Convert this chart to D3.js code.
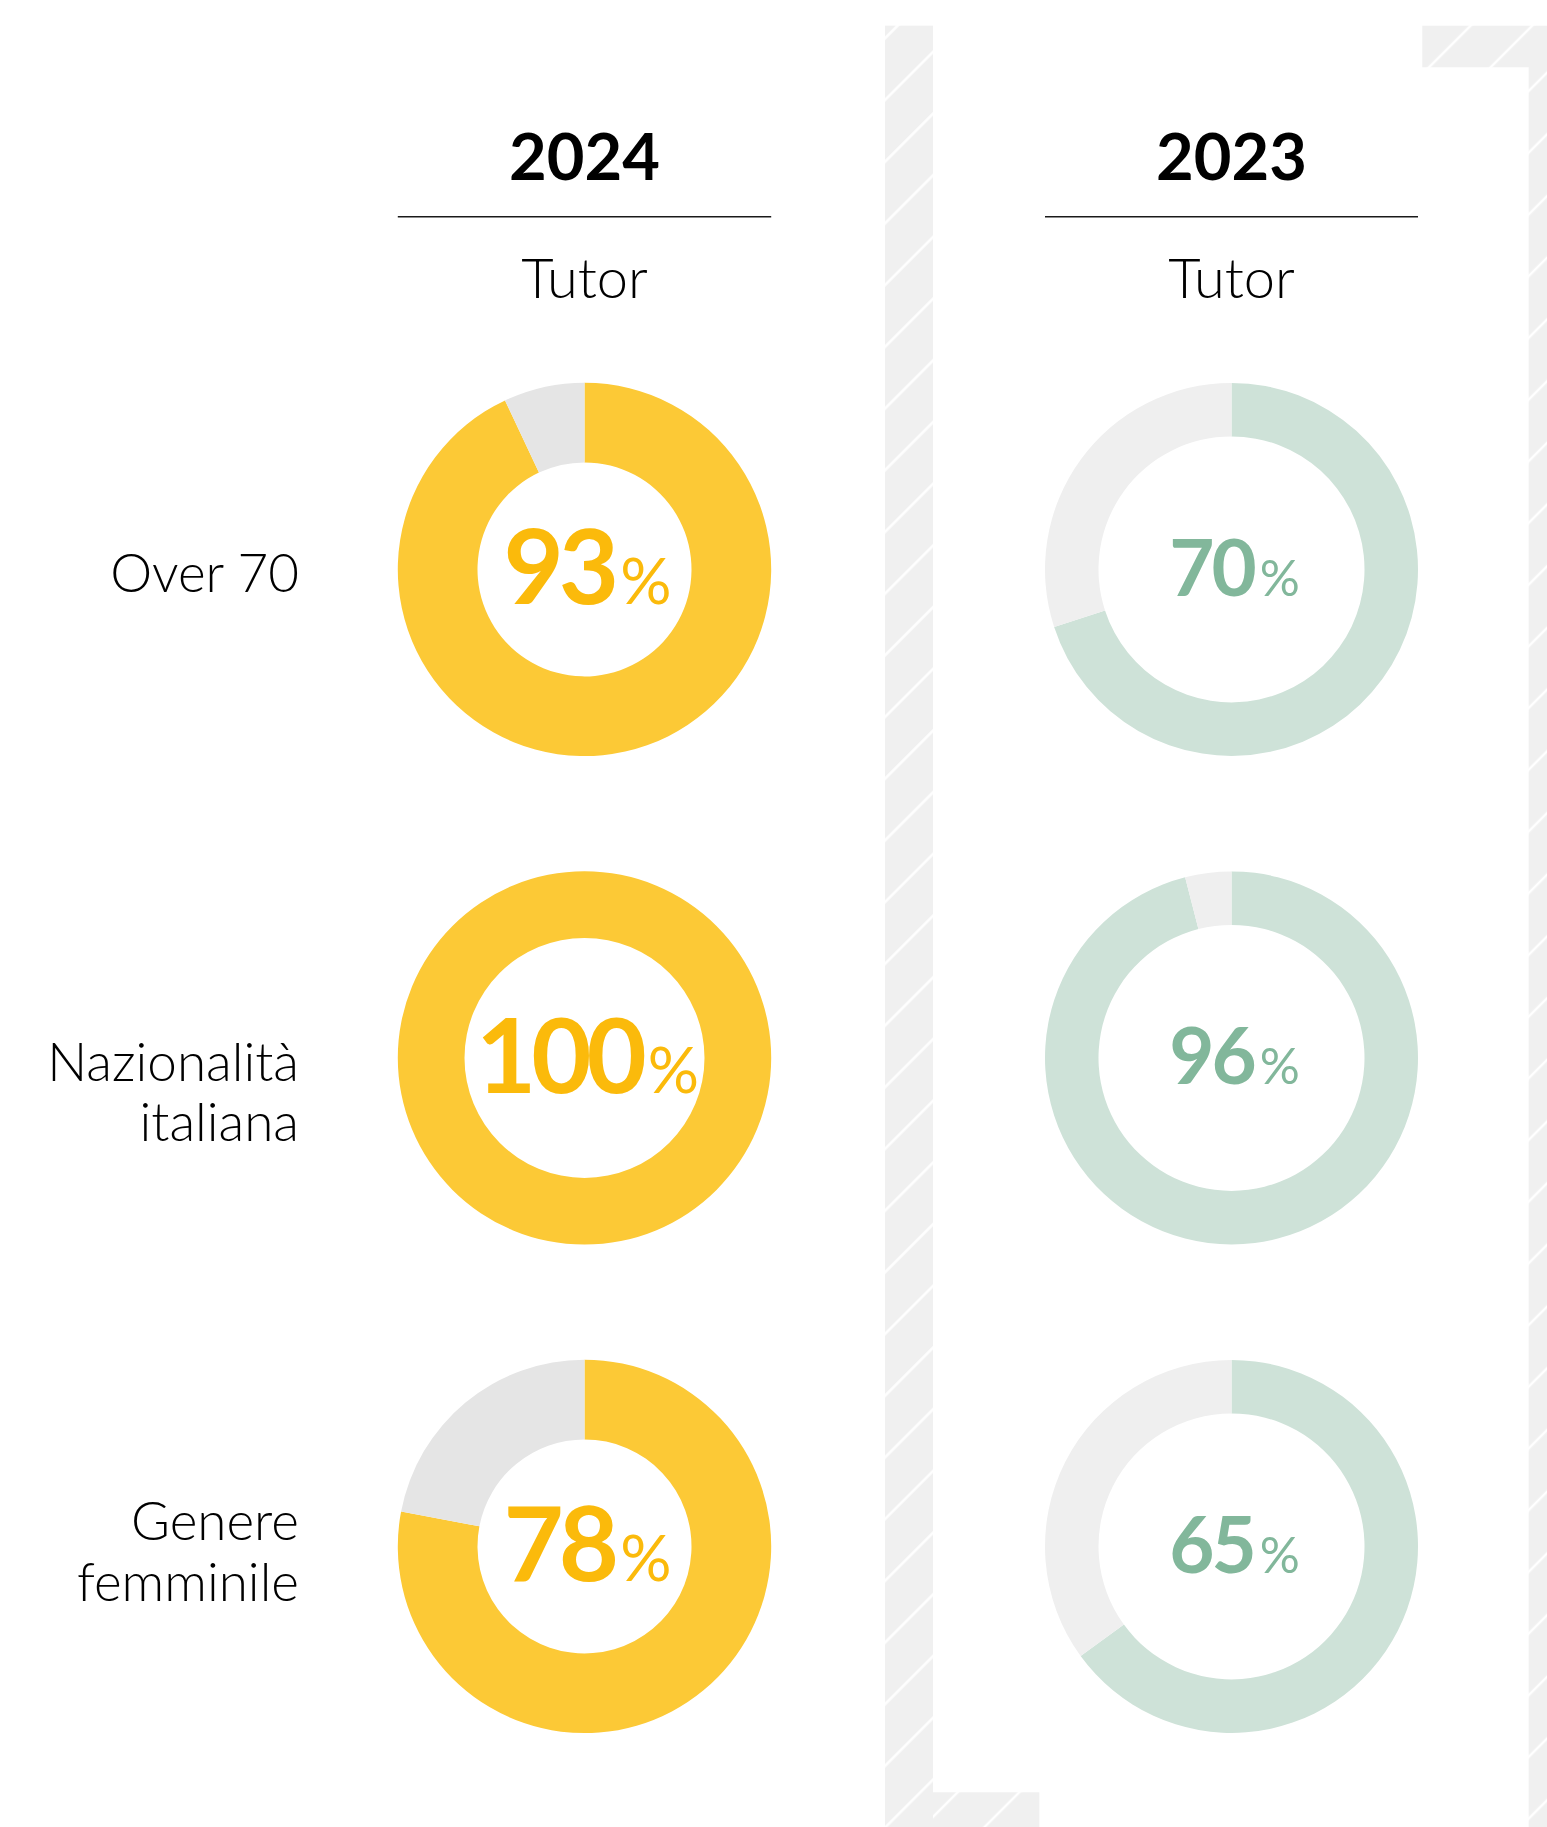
<!DOCTYPE html>
<html lang="it">
<head>
<meta charset="utf-8">
<title>Tutor 2024 – 2023</title>
<script src="https://cdn.jsdelivr.net/npm/d3@7"></script>
<style>
  html, body { margin: 0; padding: 0; background: #ffffff; }
  svg { display: block; }
  text { font-family: Lato, "Open Sans", sans-serif; }
</style>
</head>
<body>
<svg id="chart" width="1547" height="1827"></svg>
<script>
// ---- data ----
const years = ["2024", "2023"];
const groupLabel = "Tutor";
const categories = [["Over 70"], ["Nazionalità", "italiana"], ["Genere", "femminile"]];
const values2024 = [93, 100, 78];
const values2023 = [70, 96, 65];

// ---- styling per year ----
const yearStyle = {
  "2024": { fill: "#FCC936", rest: "#E5E5E5", text: "#FBBA0B", outer: 186.7, hole: v => (v >= 100 ? 120 : 107), num: 104, pct: 64, track: -5 },
  "2023": { fill: "#CEE2D8", rest: "#EFEFEF", text: "#82B79B", outer: 186.5, hole: () => 133, num: 78, pct: 50, track: -3 }
};
const seriesByYear = { "2024": values2024, "2023": values2023 };
// first-line baseline tweak for each category label
const labelShift = [0, 0, -29];

const W = 1547, H = 1827;
const svg = d3.select("#chart");

const x = d3.scalePoint().domain(years).range([584.5, 1231.5]);
const y = d3.scalePoint().domain(d3.range(categories.length)).range([569.4, 1546.4]);

// ---- hatched frame behind the 2023 column ----
const defs = svg.append("defs");
const hatchPhases = [59.5, 35.1, 15.5];
const step = 61.7 / Math.SQRT2;
hatchPhases.forEach((ph, i) => {
  const p = defs.append("pattern")
    .attr("id", "hatch" + i)
    .attr("patternUnits", "userSpaceOnUse")
    .attr("width", step).attr("height", step)
    .attr("patternTransform", "rotate(45)");
  p.append("rect").attr("width", step).attr("height", step).attr("fill", "#F0F0F0");
  const u = (ph / Math.SQRT2) % step;
  p.append("rect").attr("x", u - 1.25).attr("y", 0).attr("width", 2.5).attr("height", step).attr("fill", "#ffffff");
  p.append("rect").attr("x", u - 1.25 - step).attr("y", 0).attr("width", 2.5).attr("height", step).attr("fill", "#ffffff");
});
const frame = svg.append("g").attr("class", "frame");
// left band
frame.append("rect").attr("x", 885).attr("y", 25.7).attr("width", 48).attr("height", H - 25.7).attr("fill", "url(#hatch0)");
// bottom strip
frame.append("rect").attr("x", 933).attr("y", 1792.3).attr("width", 1039.3 - 933).attr("height", H - 1792.3).attr("fill", "url(#hatch1)");
// top-right corner and right band
frame.append("path")
  .attr("d", `M1422.3,25.7 H${W} V${H} H1528.7 V67.3 H1422.3 Z`)
  .attr("fill", "url(#hatch2)");

// ---- column headers ----
const head = svg.append("g").attr("class", "headers");
years.forEach(yr => {
  const cx = x(yr), R = yearStyle[yr].outer;
  head.append("text")
    .attr("x", cx).attr("y", 180)
    .attr("text-anchor", "middle")
    .attr("font-size", 65).attr("font-weight", 700).attr("fill", "#000")
    .text(yr);
  head.append("line")
    .attr("x1", cx - R).attr("x2", cx + R)
    .attr("y1", 216.7).attr("y2", 216.7)
    .attr("stroke", "#1a1a1a").attr("stroke-width", 1.5);
  head.append("text")
    .attr("x", cx).attr("y", 298.3)
    .attr("text-anchor", "middle")
    .attr("font-size", 56).attr("font-weight", 300).attr("fill", "#000")
    .text(groupLabel);
});

// ---- row labels ----
const labels = svg.append("g").attr("class", "row-labels");
categories.forEach((lines, i) => {
  const t = labels.append("text")
    .attr("text-anchor", "end")
    .attr("font-size", 53).attr("font-weight", 300).attr("fill", "#000");
  lines.forEach((ln, j) => {
    t.append("tspan")
      .attr("x", 299)
      .attr("y", y(i) + 23 + labelShift[i] + j * 60.5)
      .text(ln);
  });
});

// ---- donuts ----
const pie = d3.pie().sort(null).value(d => d.v).startAngle(0).endAngle(2 * Math.PI);
years.forEach(yr => {
  const st = yearStyle[yr];
  seriesByYear[yr].forEach((val, i) => {
    const g = svg.append("g").attr("transform", `translate(${x(yr)},${y(i)})`);
    const arc = d3.arc().innerRadius(st.hole(val)).outerRadius(st.outer);
    g.selectAll("path")
      .data(pie([{ k: "value", v: val }, { k: "rest", v: 100 - val }]))
      .join("path")
      .attr("d", arc)
      .attr("fill", d => (d.data.k === "value" ? st.fill : st.rest));
    const t = g.append("text")
      .attr("x", 3).attr("y", st.num * 0.335)
      .attr("text-anchor", "middle")
      .attr("fill", st.text);
    t.append("tspan").attr("font-size", st.num).attr("font-weight", 700)
      .attr("letter-spacing", st.track).text(val);
    t.append("tspan").attr("font-size", st.pct).attr("font-weight", 400).attr("dx", 6).text("%");
  });
});
</script>
</body>
</html>
